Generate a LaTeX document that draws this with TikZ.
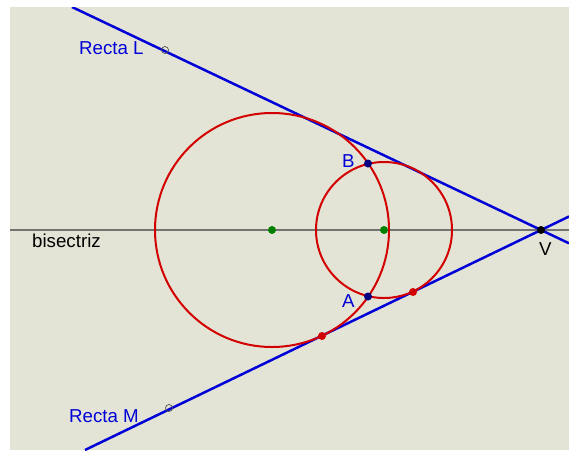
\documentclass[tikz,border=0pt]{standalone}
\usepackage{fontspec}
\setmainfont{Liberation Sans}
\usetikzlibrary{calc}

\definecolor{fondo}{RGB}{228,228,214}
\definecolor{azul}{RGB}{0,0,215}
\definecolor{rojo}{RGB}{210,0,0}
\definecolor{verde}{RGB}{0,128,0}

\begin{document}
\begin{tikzpicture}[x=1pt,y=-1pt,
    recta/.style={draw=azul,line width=2.5pt},
    circ/.style={draw=rojo,line width=2pt},
    punto/.style={circle,fill=#1,inner sep=0pt,minimum size=8pt},
    libre/.style={circle,draw=black!70,inner sep=0pt,minimum size=7pt,line width=0.7pt},
    etiq/.style={font=\fontsize{18.7}{21}\selectfont,text=azul,anchor=base west,inner sep=0pt},
  ]
    \fill[white] (0,0) rectangle (569,450);
    \fill[fondo] (10,7) rectangle (569,450);
    \useasboundingbox (0,0) rectangle (569,450);
    \begin{scope}
    \clip (10,7) rectangle (569,450);
    % bisectriz y rectas
    \coordinate (b1) at (10,230);
    \coordinate (b2) at (569,230);
    \coordinate (L1) at (72,7);
    \coordinate (L2) at (569,243.3);
    \coordinate (M1) at (85,450);
    \coordinate (M2) at (569,216.5);
    \draw[black!55,line width=1.5pt] (b1) -- (b2);
    \draw[recta] (L1) -- (L2);
    \draw[recta] (M1) -- (M2);
    % circunferencias
    \coordinate (O1) at (272,230);
    \coordinate (O2) at (384,230);
    \draw[circ] (O1) circle (117);
    \draw[circ] (O2) circle (68);
    \end{scope}
    % puntos
    \node[punto=verde] (c1) at (O1) {};
    \node[punto=verde] (c2) at (O2) {};
    \node[punto=rojo] (T1) at (322,336) {};
    \node[punto=rojo] (T2) at (413,292) {};
    \node[punto=blue!50!black] (B) at (368,163.5) {};
    \node[punto=blue!50!black] (A) at (368,296.5) {};
    \node[punto=black] (V) at (541,230) {};
    \node[libre] (PL) at (165,50) {};
    \node[libre] (PM) at (169,408) {};
    % rotulos
    \node[etiq] at (79,54) {Recta L};
    \node[etiq] at (69,422.5) {Recta M};
    \node[etiq,text=black] at (32,247.5) {bisectriz};
    \node[etiq,text=black] at (539,255) {V};
    \node[etiq] at (342,167) {B};
    \node[etiq] at (342,307) {A};
  \end{tikzpicture}
\end{document}
